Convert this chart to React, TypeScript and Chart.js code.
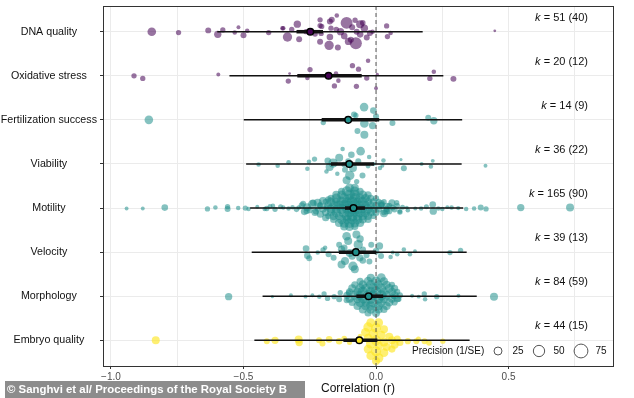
import React, { useEffect, useRef } from "react";
import { Chart, registerables } from "chart.js";

Chart.register(...registerables);

const CATEGORIES = [
  "DNA quality",
  "Oxidative stress",
  "Fertilization success",
  "Viability",
  "Motility",
  "Velocity",
  "Morphology",
  "Embryo quality",
];
const K_EFFECTS = [51, 20, 14, 36, 165, 39, 84, 44];
const K_STUDIES = [40, 12, 9, 22, 90, 13, 59, 15];
const MEANS = [-0.248, -0.179, -0.105, -0.101, -0.085, -0.076, -0.028, -0.063];
const CI_LOW = [-0.3, -0.297, -0.205, -0.17, -0.117, -0.14, -0.074, -0.123];
const CI_HIGH = [-0.2, -0.054, 0.012, -0.008, -0.042, 0.0, 0.027, 0.005];
const PI_LOW = [-0.599, -0.553, -0.499, -0.49, -0.475, -0.469, -0.428, -0.459];
const PI_HIGH = [0.176, 0.254, 0.325, 0.323, 0.329, 0.342, 0.38, 0.353];
const X_TICKS = [-1, -0.75, -0.5, -0.25, 0, 0.25, 0.5, 0.75];
const PRECISION_LEGEND = [25, 50, 75];

// [correlation r, vertical jitter (category units), precision 1/SE]
type Pt = [number, number, number];

const DNA_QUALITY: Pt[] = [
  [-0.846, 0, 29], [-0.745, 0.02, 11], [-0.633, -0.03, 14], [-0.597, 0.06, 21], [-0.578, -0.04, 11],
  [-0.533, 0.02, 8], [-0.519, -0.1, 6], [-0.5, 0.08, 14], [-0.486, -0.02, 8], [-0.405, 0.02, 11],
  [-0.353, -0.08, 8], [-0.334, 0.12, 34], [-0.318, -0.05, 11], [-0.297, -0.17, 21], [-0.29, 0.17, 14],
  [-0.264, 0, 11], [-0.211, -0.27, 11], [-0.211, -0.14, 11], [-0.207, 0.04, 11], [-0.211, 0.23, 14],
  [-0.177, 0.31, 34], [-0.174, -0.23, 14], [-0.17, -0.08, 11], [-0.174, 0.12, 17], [-0.148, -0.37, 8],
  [-0.144, 0.36, 14], [-0.134, 0, 21], [-0.111, -0.2, 56], [-0.104, 0.22, 21], [-0.079, -0.26, 11],
  [-0.076, 0.26, 56], [-0.073, 0, 14], [-0.06, -0.17, 25], [-0.044, -0.08, 21], [-0.035, 0.13, 14],
  [-0.023, 0.03, 14], [-0.013, 0, 8], [0.04, -0.13, 11], [0.043, 0.11, 11], [0.055, 0.03, 8],
  [0.448, -0.02, 3], [-0.205, -0.12, 11], [-0.167, -0.27, 14], [-0.23, 0.05, 12], [-0.12, 0.1, 17],
  [-0.09, -0.1, 14], [-0.095, 0.18, 14], [-0.06, 0.06, 17], [-0.05, -0.2, 12], [-0.15, -0.05, 12],
  [-0.35, -0.08, 8],
];

const OXIDATIVE_STRESS: Pt[] = [
  [-0.913, 0, 11], [-0.88, 0.06, 11], [-0.595, -0.03, 6], [-0.331, 0.12, 11], [-0.326, -0.05, 3],
  [-0.259, 0.05, 8], [-0.249, -0.14, 11], [-0.157, 0.23, 11], [-0.151, -0.05, 8], [-0.142, 0.11, 8],
  [-0.089, -0.23, 11], [-0.074, 0.24, 11], [-0.066, -0.15, 11], [-0.035, 0.05, 11], [-0.03, -0.34, 8],
  [0.0, 0.28, 6], [0.005, -0.03, 4], [0.203, 0.06, 11], [0.218, -0.09, 8], [0.292, 0.07, 14],
];

const FERTILIZATION: Pt[] = [
  [-0.857, 0, 29], [-0.199, 0.06, 11], [-0.083, -0.12, 14], [-0.07, 0.25, 14], [-0.045, -0.29, 29],
  [-0.044, 0.08, 29], [-0.044, 0.34, 25], [-0.01, -0.21, 17], [-0.013, 0.13, 21], [0.0, -0.08, 14],
  [0.062, 0.07, 14], [0.197, -0.05, 14], [0.218, 0.02, 21], [-0.076, -0.1, 11],
];

const VIABILITY: Pt[] = [
  [-0.443, 0.01, 8], [-0.371, 0.04, 8], [-0.33, -0.04, 8], [-0.259, 0.11, 8], [-0.253, -0.05, 8],
  [-0.232, -0.11, 11], [-0.187, 0.17, 8], [-0.182, -0.07, 17], [-0.175, 0.07, 25], [-0.162, -0.02, 34],
  [-0.146, 0.22, 8], [-0.139, -0.14, 25], [-0.126, -0.34, 8], [-0.117, 0.13, 14], [-0.111, 0.37, 25],
  [-0.105, -0.06, 14], [-0.099, 0.26, 34], [-0.093, -0.21, 17], [-0.087, 0.09, 25], [-0.058, -0.29, 29],
  [-0.051, 0.26, 14], [-0.067, -0.06, 14], [-0.026, -0.16, 8], [-0.03, 0.05, 8], [0.015, 0.09, 8],
  [0.028, -0.08, 8], [0.094, -0.1, 4], [0.105, 0.1, 14], [0.172, 0.0, 6], [0.207, 0.06, 8],
  [0.214, -0.07, 6], [0.413, 0.04, 6], [-0.008, 0.0, 6], [0.024, 0.04, 6], [-0.121, 0.01, 11],
  [-0.073, 0.4, 11],
];

const MOTILITY: Pt[] = [
  [-0.941, 0.01, 6], [-0.88, 0.01, 6], [-0.797, -0.01, 17], [-0.636, 0.02, 11], [-0.606, -0.01, 8],
  [-0.56, 0.02, 14], [-0.56, -0.03, 11], [-0.493, 0.0, 11], [-0.481, 0.02, 8], [-0.448, -0.03, 6],
  [-0.412, 0.01, 11], [-0.389, -0.05, 8], [-0.381, 0.03, 11], [-0.35, -0.01, 8], [-0.315, -0.02, 8],
  [-0.291, -0.01, 8], [-0.275, -0.1, 14], [-0.262, 0.07, 14], [-0.237, -0.12, 17], [-0.227, 0.08, 14],
  [-0.212, -0.07, 11], [-0.187, -0.01, 14],
  [0.021, -0.08, 14], [0.04, 0.07, 17], [0.063, -0.01, 14], [0.078, -0.12, 11], [0.09, 0.08, 8],
  [0.116, -0.01, 6], [0.148, 0.01, 6], [0.214, -0.08, 17], [0.216, 0.07, 21], [0.235, 0.01, 8],
  [0.269, -0.02, 6], [0.285, -0.01, 8], [0.34, 0.02, 8], [0.395, -0.01, 14], [0.415, 0.02, 11],
  [0.546, -0.01, 21], [0.732, -0.01, 25],
  [-0.1, -0.46, 30], [-0.08, -0.46, 25],
  [-0.13, -0.38, 20], [-0.11, -0.38, 40], [-0.08, -0.38, 35], [-0.06, -0.38, 20],
  [-0.15, -0.3, 25], [-0.13, -0.3, 30], [-0.1, -0.3, 45], [-0.08, -0.3, 40], [-0.05, -0.3, 30], [-0.03, -0.3, 20],
  [-0.17, -0.22, 20], [-0.15, -0.22, 35], [-0.12, -0.22, 40], [-0.1, -0.22, 30], [-0.08, -0.22, 45],
  [-0.06, -0.22, 35], [-0.04, -0.22, 30], [-0.02, -0.22, 20], [0.0, -0.22, 15],
  [-0.19, -0.14, 15], [-0.17, -0.14, 30], [-0.15, -0.14, 25], [-0.13, -0.14, 40], [-0.11, -0.14, 35],
  [-0.09, -0.14, 45], [-0.07, -0.14, 30], [-0.05, -0.14, 40], [-0.03, -0.14, 25], [-0.01, -0.14, 20],
  [0.01, -0.14, 15], [0.03, -0.14, 12],
  [-0.21, -0.06, 15], [-0.18, -0.06, 25], [-0.16, -0.06, 30], [-0.14, -0.06, 35], [-0.12, -0.06, 40],
  [-0.1, -0.06, 30], [-0.08, -0.06, 50], [-0.06, -0.06, 35], [-0.04, -0.06, 30], [-0.02, -0.06, 25],
  [0.0, -0.06, 20], [0.02, -0.06, 15], [0.05, -0.06, 12],
  [-0.22, 0.02, 12], [-0.2, 0.02, 20], [-0.17, 0.02, 30], [-0.15, 0.02, 25], [-0.13, 0.02, 40],
  [-0.11, 0.02, 35], [-0.09, 0.02, 45], [-0.07, 0.02, 40], [-0.05, 0.02, 30], [-0.03, 0.02, 35],
  [-0.01, 0.02, 25], [0.01, 0.02, 20], [0.04, 0.02, 15],
  [-0.19, 0.1, 20], [-0.17, 0.1, 25], [-0.15, 0.1, 35], [-0.12, 0.1, 45], [-0.1, 0.1, 40],
  [-0.08, 0.1, 30], [-0.06, 0.1, 40], [-0.04, 0.1, 35], [-0.02, 0.1, 25], [0.0, 0.1, 20], [0.03, 0.1, 12],
  [-0.18, 0.18, 15], [-0.16, 0.18, 30], [-0.14, 0.18, 25], [-0.11, 0.18, 40], [-0.09, 0.18, 45],
  [-0.07, 0.18, 35], [-0.05, 0.18, 30], [-0.03, 0.18, 25], [-0.01, 0.18, 15],
  [-0.16, 0.26, 20], [-0.13, 0.26, 35], [-0.11, 0.26, 30], [-0.09, 0.26, 40], [-0.07, 0.26, 35],
  [-0.05, 0.26, 25], [-0.03, 0.26, 20],
  [-0.14, 0.34, 25], [-0.12, 0.34, 35], [-0.1, 0.34, 40], [-0.08, 0.34, 30], [-0.06, 0.34, 25],
  [-0.12, 0.42, 25], [-0.1, 0.42, 30], [-0.08, 0.42, 20],
  [-0.3, 0.03, 12], [-0.28, -0.06, 15], [-0.27, 0.08, 20], [-0.26, -0.02, 25], [-0.25, 0.05, 15],
  [-0.24, -0.09, 30], [-0.23, 0.1, 20], [-0.22, -0.12, 25], [-0.21, 0.14, 20], [-0.2, -0.16, 25],
  [-0.19, 0.22, 20], [-0.18, -0.2, 15],
  [0.02, -0.1, 20], [0.03, 0.12, 25], [0.04, -0.04, 20], [0.05, 0.07, 15], [0.06, -0.12, 20],
  [0.07, 0.03, 15], [0.08, -0.05, 12], [0.09, 0.09, 12], [0.1, -0.02, 10], [0.12, 0.05, 8],
  [-0.33, 0.01, 8], [-0.36, -0.03, 10], [-0.42, 0.02, 8], [-0.52, 0.0, 8], [-0.4, -0.04, 9],
  [0.17, 0.01, 8], [0.19, -0.03, 10], [0.25, 0.02, 8], [0.31, 0.0, 7], [0.37, 0.01, 8],
];

const VELOCITY: Pt[] = [
  [-0.264, -0.08, 17], [-0.259, 0.08, 17], [-0.252, 0.14, 14], [-0.22, 0.01, 8], [-0.192, -0.1, 8],
  [-0.179, 0.05, 14], [-0.16, 0.13, 14], [-0.139, -0.17, 14], [-0.13, -0.06, 21], [-0.117, 0.2, 25],
  [-0.111, -0.36, 29], [-0.105, -0.25, 25], [-0.099, 0.02, 25], [-0.087, 0.32, 34], [-0.08, 0.39, 25],
  [-0.074, -0.4, 25], [-0.067, -0.17, 34], [-0.061, 0.13, 21], [-0.049, -0.06, 14], [-0.036, 0.07, 14],
  [-0.018, -0.17, 14], [0.0, -0.02, 17], [0.013, -0.14, 21], [0.019, 0.09, 14], [0.055, 0.11, 8],
  [0.063, 0.01, 6], [0.08, 0.05, 8], [0.105, -0.06, 8], [0.128, 0.05, 8], [0.147, -0.02, 6],
  [0.279, 0.01, 11], [0.319, -0.04, 11], [-0.09, 0.09, 21], [-0.13, 0.28, 25], [-0.05, 0.19, 17],
  [-0.025, 0.21, 14], [-0.12, -0.1, 17], [-0.06, -0.3, 21], [-0.2, -0.05, 11],
];

const MORPHOLOGY: Pt[] = [
  [-0.556, 0.01, 21], [-0.391, 0.01, 4], [-0.321, -0.02, 6], [-0.266, 0.01, 6], [-0.24, -0.02, 6],
  [-0.214, 0.01, 8], [-0.196, -0.05, 11], [-0.183, 0.05, 11], [-0.158, 0.01, 11], [-0.139, 0.07, 14],
  [-0.135, -0.08, 11], [-0.111, 0.09, 14], [-0.104, -0.08, 11],
  [0.067, 0.01, 11], [0.086, 0.07, 11], [0.136, -0.01, 6], [0.161, 0.01, 6], [0.182, -0.05, 11],
  [0.185, 0.07, 8], [0.229, 0.01, 11], [0.311, -0.01, 6], [0.445, 0.01, 25],
  [-0.02, -0.42, 25], [0.02, -0.42, 30],
  [-0.06, -0.34, 20], [-0.03, -0.34, 30], [0.0, -0.34, 35], [0.03, -0.34, 25],
  [-0.08, -0.26, 20], [-0.05, -0.26, 30], [-0.02, -0.26, 35], [0.01, -0.26, 30], [0.04, -0.26, 25], [0.06, -0.26, 15],
  [-0.09, -0.18, 25], [-0.06, -0.18, 35], [-0.04, -0.18, 30], [-0.01, -0.18, 40], [0.02, -0.18, 35],
  [0.05, -0.18, 30], [0.07, -0.18, 20],
  [-0.1, -0.1, 20], [-0.07, -0.1, 30], [-0.05, -0.1, 40], [-0.02, -0.1, 35], [0.0, -0.1, 45],
  [0.03, -0.1, 30], [0.06, -0.1, 25], [0.08, -0.1, 15],
  [-0.11, -0.02, 20], [-0.08, -0.02, 35], [-0.06, -0.02, 30], [-0.03, -0.02, 40], [-0.01, -0.02, 35],
  [0.02, -0.02, 40], [0.04, -0.02, 30], [0.07, -0.02, 25], [0.09, -0.02, 15],
  [-0.1, 0.06, 25], [-0.07, 0.06, 30], [-0.05, 0.06, 35], [-0.02, 0.06, 40], [0.01, 0.06, 35],
  [0.03, 0.06, 30], [0.06, 0.06, 25], [0.08, 0.06, 20],
  [-0.09, 0.14, 20], [-0.06, 0.14, 35], [-0.04, 0.14, 30], [-0.01, 0.14, 40], [0.02, 0.14, 30],
  [0.05, 0.14, 25], [0.07, 0.14, 15],
  [-0.07, 0.22, 25], [-0.04, 0.22, 30], [-0.02, 0.22, 35], [0.01, 0.22, 30], [0.04, 0.22, 25],
  [-0.05, 0.3, 25], [-0.02, 0.3, 30], [0.01, 0.3, 25], [0.03, 0.3, 20],
  [-0.03, 0.38, 20], [0.0, 0.38, 25],
];

const EMBRYO_QUALITY: Pt[] = [
  [-0.831, 0, 25], [-0.412, 0.02, 14], [-0.381, 0, 21], [-0.292, -0.02, 25], [-0.29, 0.05, 21],
  [-0.215, 0, 14], [-0.202, 0.07, 14], [-0.177, -0.02, 17], [-0.139, 0.02, 17], [-0.12, -0.04, 12],
  [-0.1, 0.05, 10], [-0.06, -0.1, 8],
  [-0.02, -0.4, 30], [0.01, -0.4, 30], [-0.03, -0.3, 35], [0.0, -0.28, 40], [0.03, -0.25, 25],
  [-0.04, -0.18, 30], [-0.01, -0.15, 35], [0.02, -0.12, 30], [0.05, -0.08, 25], [-0.03, -0.05, 30],
  [0.0, 0.0, 40], [0.03, 0.04, 30], [0.06, 0.0, 25], [0.08, -0.03, 20], [0.09, 0.05, 20],
  [0.12, 0.02, 15], [-0.02, 0.08, 35], [0.01, 0.12, 30], [0.04, 0.15, 25], [-0.03, 0.2, 30],
  [0.0, 0.25, 40], [0.03, 0.28, 30], [-0.02, 0.35, 30], [0.01, 0.4, 35], [0.0, 0.47, 25],
  [0.06, 0.2, 20], [0.07, 0.1, 25],
  [0.152, 0.02, 14], [0.183, 0.02, 14], [0.2, 0.06, 12], [0.252, 0.02, 11], [0.16, -0.03, 10],
];

const POINT_SETS: Pt[][] = [
  DNA_QUALITY, OXIDATIVE_STRESS, FERTILIZATION, VIABILITY,
  MOTILITY, VELOCITY, MORPHOLOGY, EMBRYO_QUALITY,
];

const FONT = "'Liberation Sans', Arial, Helvetica, sans-serif";
const SOLID = ["#440154", "#440154", "#21908C", "#21908C", "#21908C", "#21908C", "#21908C", "#FDE725"];
const FILL = [
  "rgba(68,1,84,0.55)", "rgba(68,1,84,0.55)",
  "rgba(33,144,140,0.55)", "rgba(33,144,140,0.55)", "rgba(33,144,140,0.55)",
  "rgba(33,144,140,0.55)", "rgba(33,144,140,0.55)",
  "rgba(253,231,37,0.65)",
];
const sizeOf = (p: number) => 0.8 * Math.sqrt(p);

const overlayPlugin = {
  id: "orchardOverlay",
  afterDatasetsDraw(chart: any) {
    const { ctx, chartArea, scales } = chart;
    const xs = scales.x;
    const ys = scales.y;
    ctx.save();
    // zero line
    ctx.strokeStyle = "#555";
    ctx.lineWidth = 1;
    ctx.setLineDash([4, 3]);
    const x0 = xs.getPixelForValue(0);
    ctx.beginPath();
    ctx.moveTo(x0, chartArea.top);
    ctx.lineTo(x0, chartArea.bottom);
    ctx.stroke();
    ctx.setLineDash([]);

    CATEGORIES.forEach((_, i) => {
      const y = ys.getPixelForValue(i + 1);
      ctx.strokeStyle = "#111";
      ctx.lineCap = "butt";
      ctx.lineWidth = 1.5;
      ctx.beginPath();
      ctx.moveTo(xs.getPixelForValue(PI_LOW[i]), y);
      ctx.lineTo(xs.getPixelForValue(PI_HIGH[i]), y);
      ctx.stroke();
      ctx.lineWidth = 3.5;
      ctx.beginPath();
      ctx.moveTo(xs.getPixelForValue(CI_LOW[i]), y);
      ctx.lineTo(xs.getPixelForValue(CI_HIGH[i]), y);
      ctx.stroke();
      ctx.beginPath();
      ctx.arc(xs.getPixelForValue(MEANS[i]), y, 3.3, 0, Math.PI * 2);
      ctx.fillStyle = SOLID[i];
      ctx.fill();
      ctx.lineWidth = 1.5;
      ctx.strokeStyle = "#000";
      ctx.stroke();

      // k labels
      const yk = y - 14;
      const rest = ` = ${K_EFFECTS[i]} (${K_STUDIES[i]})`;
      ctx.font = `11px ${FONT}`;
      const wRest = ctx.measureText(rest).width;
      ctx.font = `italic 11px ${FONT}`;
      const wK = ctx.measureText("k").width;
      const xr = chartArea.right - 25;
      ctx.fillStyle = "#111";
      ctx.textBaseline = "middle";
      ctx.textAlign = "left";
      ctx.fillText("k", xr - wRest - wK, yk);
      ctx.font = `11px ${FONT}`;
      ctx.fillText(rest, xr - wRest, yk);
    });

    // precision legend
    const ly = chartArea.bottom - 15;
    ctx.font = `10px ${FONT}`;
    ctx.fillStyle = "#111";
    ctx.textAlign = "left";
    ctx.textBaseline = "middle";
    ctx.fillText("Precision (1/SE)", chartArea.right - 201, ly);
    const cx = [chartArea.right - 115, chartArea.right - 74, chartArea.right - 32];
    PRECISION_LEGEND.forEach((p, j) => {
      ctx.beginPath();
      ctx.arc(cx[j], ly, sizeOf(p), 0, Math.PI * 2);
      ctx.strokeStyle = "#555";
      ctx.lineWidth = 1;
      ctx.stroke();
      ctx.textAlign = "center";
      ctx.fillText(String(p), cx[j] + 20, ly);
    });

    // panel border
    ctx.strokeStyle = "#333";
    ctx.lineWidth = 1;
    ctx.strokeRect(
      Math.round(chartArea.left) + 0.5,
      Math.round(chartArea.top) + 0.5,
      Math.round(chartArea.right - chartArea.left),
      Math.round(chartArea.bottom - chartArea.top)
    );
    ctx.restore();
  },
};

export default function App() {
  const ref = useRef<HTMLCanvasElement | null>(null);
  useEffect(() => {
    document.body.style.margin = "0";
    if (!ref.current) return;
    const datasets = POINT_SETS.map((pts, i) => ({
      label: CATEGORIES[i],
      data: pts.map(([r, dy, p]) => ({ x: r, y: i + 1 + dy, p })),
      backgroundColor: FILL[i],
      borderWidth: 0,
      pointRadius: (c: any) => sizeOf(c.raw ? c.raw.p : 10),
      pointBorderWidth: 0,
    }));
    const chart = new Chart(ref.current, {
      type: "scatter",
      data: { datasets },
      plugins: [overlayPlugin],
      options: {
        animation: false,
        responsive: false,
        events: [],
        layout: { padding: { top: 6, right: 21, left: 0, bottom: 0 } },
        plugins: { legend: { display: false }, tooltip: { enabled: false } },
        scales: {
          x: {
            type: "linear",
            min: -1.03,
            max: 0.894,
            afterBuildTicks: (s: any) => {
              s.ticks = X_TICKS.map((v) => ({ value: v }));
            },
            afterFit: (s: any) => {
              s.height = 32;
              s.paddingLeft = 0;
              s.paddingRight = 0;
            },
            border: { display: false },
            grid: {
              color: "#ebebeb",
              lineWidth: 1,
              tickLength: 3,
              tickColor: (c: any) =>
                c.tick && Math.abs(c.tick.value * 2 - Math.round(c.tick.value * 2)) < 1e-6 ? "#333" : "rgba(0,0,0,0)",
            },
            ticks: {
              autoSkip: false,
              maxRotation: 0,
              padding: 2,
              color: "#4d4d4d",
              font: { family: FONT, size: 10 },
              callback: (v: any) => {
                const n = Number(v);
                if (Math.abs(n * 2 - Math.round(n * 2)) > 1e-6) return "";
                return n.toFixed(1).replace("-", "\u2212");
              },
            },
            title: {
              display: true,
              text: "Correlation (r)",
              color: "#111",
              font: { family: FONT, size: 12 },
              padding: { top: 0, bottom: 2 },
            },
          },
          y: {
            type: "linear",
            reverse: true,
            min: 0.417,
            max: 8.583,
            afterBuildTicks: (s: any) => {
              s.ticks = CATEGORIES.map((_, i) => ({ value: i + 1 }));
            },
            afterFit: (s: any) => {
              s.width = 103;
              s.paddingTop = 0;
              s.paddingBottom = 0;
            },
            border: { display: false },
            grid: { color: "#ebebeb", lineWidth: 1, tickLength: 3, tickColor: "#333" },
            ticks: {
              autoSkip: false,
              padding: 3,
              crossAlign: "center",
              color: "#111",
              font: { family: FONT, size: 10.7 },
              callback: (_v: any, i: number) => CATEGORIES[i],
            },
          },
        },
      },
    } as any);
    return () => chart.destroy();
  }, []);
  return (
    <div style={{ position: "relative", width: 634, height: 398, background: "#fff" }}>
      <canvas ref={ref} width={634} height={398} style={{ display: "block" }} />
      <div
        style={{
          position: "absolute",
          left: 5,
          top: 381,
          width: 300,
          height: 17,
          background: "rgba(128,128,128,0.9)",
          color: "#fff",
          fontFamily: FONT,
          fontWeight: "bold",
          fontSize: 11.4,
          lineHeight: "17px",
          paddingLeft: 2,
          boxSizing: "border-box",
          whiteSpace: "nowrap",
          overflow: "hidden",
        }}
      >
        © Sanghvi et al/ Proceedings of the Royal Society B
      </div>
    </div>
  );
}
